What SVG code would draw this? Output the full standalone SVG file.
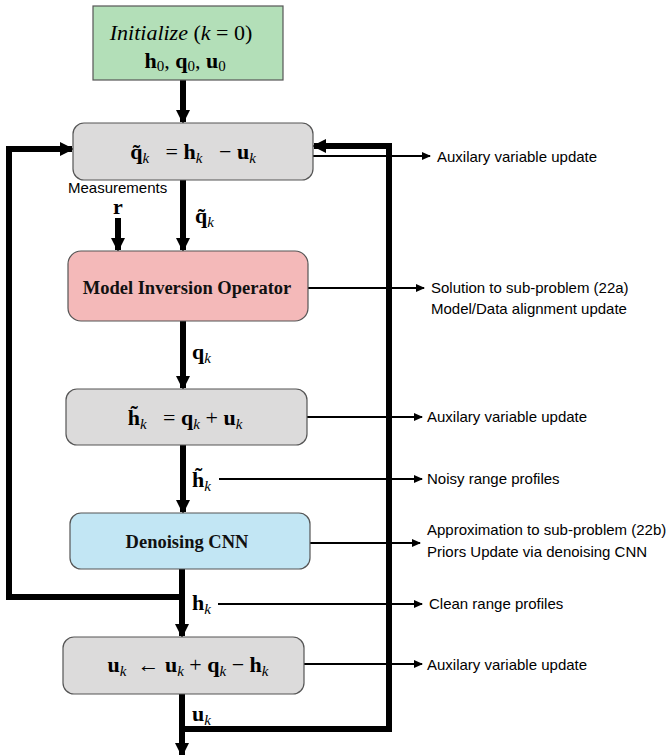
<svg xmlns="http://www.w3.org/2000/svg" width="670" height="755" viewBox="0 0 670 755">
<style>
.box{stroke:#555;stroke-width:1.2}
.gray{fill:#dcdbdb}
.thick{fill:none;stroke:#000;stroke-width:6}
.thin{fill:none;stroke:#000;stroke-width:2}
.sans{font-family:"Liberation Sans",Arial,sans-serif;font-size:15px;fill:#000}
.m{font-family:"Liberation Serif","Times New Roman",serif;font-size:22px;fill:#000}
.b{font-weight:bold}
.sub{font-style:italic;font-size:15px}
.lbl{font-family:"Liberation Serif","Times New Roman",serif;font-weight:bold;font-size:18.5px;fill:#111}
</style>
<defs>
<marker id="ah" markerUnits="userSpaceOnUse" markerWidth="14" markerHeight="14" viewBox="0 0 14 14" refX="12" refY="7" orient="auto">
<path d="M0,0 L14,7 L0,14 Z" fill="#000"/>
</marker>
<marker id="as" markerUnits="userSpaceOnUse" markerWidth="9" markerHeight="8" viewBox="0 0 9 8" refX="8" refY="4" orient="auto">
<path d="M0,0 L9,4 L0,8 Z" fill="#000"/>
</marker>
</defs>

<g id="connectors">
<line class="thick" x1="183" y1="80" x2="183" y2="122" marker-end="url(#ah)"/>
<line class="thick" x1="183" y1="180" x2="183" y2="250" marker-end="url(#ah)"/>
<line class="thick" x1="118" y1="218" x2="118" y2="250" marker-end="url(#ah)"/>
<line class="thick" x1="183" y1="321" x2="183" y2="388" marker-end="url(#ah)"/>
<line class="thick" x1="183" y1="445" x2="183" y2="512" marker-end="url(#ah)"/>
<line class="thick" x1="182" y1="569" x2="182" y2="636" marker-end="url(#ah)"/>
<line class="thick" x1="182" y1="694" x2="182" y2="755" marker-end="url(#ah)"/>
<path class="thick" d="M182,597 H9 V149 H72" marker-end="url(#ah)"/>
<path class="thick" d="M182,729 H389 V146 H314" marker-end="url(#ah)"/>
<line class="thin" x1="313" y1="156" x2="430" y2="156" marker-end="url(#as)"/>
<line class="thin" x1="308" y1="288" x2="424" y2="288" marker-end="url(#as)"/>
<line class="thin" x1="307" y1="417" x2="422" y2="417" marker-end="url(#as)"/>
<line class="thin" x1="219" y1="479" x2="422" y2="479" marker-end="url(#as)"/>
<line class="thin" x1="310" y1="543" x2="420" y2="543" marker-end="url(#as)"/>
<line class="thin" x1="218" y1="604" x2="422" y2="604" marker-end="url(#as)"/>
<line class="thin" x1="304" y1="664" x2="422" y2="664" marker-end="url(#as)"/>
</g>

<g id="init">
<rect class="box" x="93" y="6" width="190" height="74" fill="#b3dfb8"/>
<text class="m" x="181" y="40" text-anchor="middle"><tspan font-style="italic">Initialize</tspan> (<tspan font-style="italic">k</tspan>   = 0)</text>
<text class="m" x="185" y="68" text-anchor="middle"><tspan class="b">h</tspan><tspan font-size="15" dy="3">0</tspan><tspan dy="-3">,  </tspan><tspan class="b">q</tspan><tspan font-size="15" dy="3">0</tspan><tspan dy="-3">,  </tspan><tspan class="b">u</tspan><tspan font-size="15" dy="3">0</tspan></text>
</g>

<g id="box1">
<rect class="box gray" x="73" y="123" width="240" height="57" rx="11"/>
<text class="m" x="193" y="159" text-anchor="middle" xml:space="preserve"><tspan class="b">q̃</tspan><tspan class="sub" dy="4">k</tspan><tspan dy="-4">   = </tspan><tspan class="b">h</tspan><tspan class="sub" dy="4">k</tspan><tspan dy="-4">   − </tspan><tspan class="b">u</tspan><tspan class="sub" dy="4">k</tspan></text>
</g>

<g id="measurements">
<text class="sans" x="68" y="193">Measurements</text>
<text class="m b" x="113" y="214" font-size="18">r</text>
</g>

<g id="label-qtilde">
<text class="m" x="195" y="223"><tspan class="b">q̃</tspan><tspan class="sub" dy="4">k</tspan></text>
</g>

<g id="box2">
<rect class="box" x="68" y="251" width="240" height="70" rx="13" fill="#f4b9b9"/>
<text class="lbl" x="187" y="294" text-anchor="middle">Model Inversion Operator</text>
</g>

<g id="label-q">
<text class="m" x="192" y="359"><tspan class="b">q</tspan><tspan class="sub" dy="4">k</tspan></text>
</g>

<g id="box3">
<rect class="box gray" x="66" y="389" width="241" height="56" rx="11"/>
<text class="m" x="185" y="425" text-anchor="middle" xml:space="preserve"><tspan class="b">h̃</tspan><tspan class="sub" dy="4">k</tspan><tspan dy="-4">   = </tspan><tspan class="b">q</tspan><tspan class="sub" dy="4">k</tspan><tspan dy="-4"> + </tspan><tspan class="b">u</tspan><tspan class="sub" dy="4">k</tspan></text>
</g>

<g id="label-htilde">
<text class="m" x="192" y="487"><tspan class="b">h̃</tspan><tspan class="sub" dy="4">k</tspan></text>
</g>

<g id="box4">
<rect class="box" x="70" y="513" width="240" height="56" rx="11" fill="#c2e6f4"/>
<text class="lbl" x="187" y="548" text-anchor="middle">Denoising CNN</text>
</g>

<g id="label-h">
<text class="m" x="192" y="610"><tspan class="b">h</tspan><tspan class="sub" dy="4">k</tspan></text>
</g>

<g id="box5">
<rect class="box gray" x="63" y="637" width="241" height="57" rx="11"/>
<text class="m" x="188" y="672" text-anchor="middle" xml:space="preserve"><tspan class="b">u</tspan><tspan class="sub" dy="4">k</tspan><tspan dy="-4">  ← </tspan><tspan class="b">u</tspan><tspan class="sub" dy="4">k</tspan><tspan dy="-4"> + </tspan><tspan class="b">q</tspan><tspan class="sub" dy="4">k</tspan><tspan dy="-4"> − </tspan><tspan class="b">h</tspan><tspan class="sub" dy="4">k</tspan></text>
</g>

<g id="label-u">
<text class="m" x="192" y="721"><tspan class="b">u</tspan><tspan class="sub" dy="4">k</tspan></text>
</g>

<g id="annotations">
<text class="sans" x="437" y="162">Auxilary variable update</text>
<text class="sans" x="431" y="293">Solution to sub-problem (22a)</text>
<text class="sans" x="431" y="314">Model/Data alignment update</text>
<text class="sans" x="427" y="422">Auxilary variable update</text>
<text class="sans" x="427" y="484">Noisy range profiles</text>
<text class="sans" x="427" y="535">Approximation to sub-problem (22b)</text>
<text class="sans" x="427" y="557">Priors Update via denoising CNN</text>
<text class="sans" x="429" y="609">Clean range profiles</text>
<text class="sans" x="427" y="670">Auxilary variable update</text>
</g>
</svg>
